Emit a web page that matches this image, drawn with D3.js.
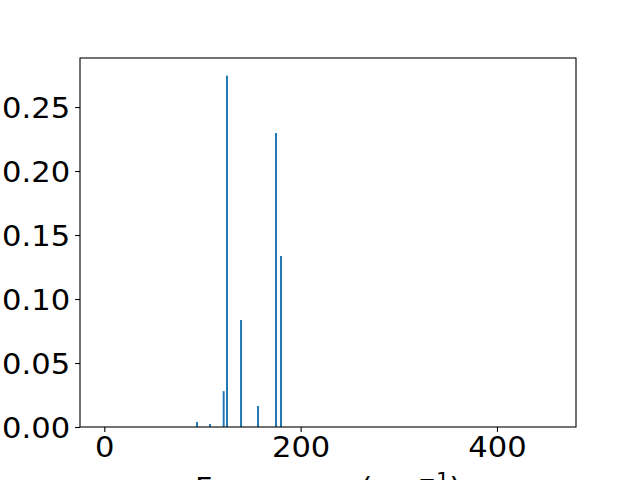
<!DOCTYPE html>
<html>
<head>
<meta charset="utf-8">
<script src="https://cdn.jsdelivr.net/npm/d3@7"></script>
<style>
html,body{margin:0;padding:0;background:#fff;}
svg{display:block;font-family:"DejaVu Sans",sans-serif;}
</style>
</head>
<body>
<svg id="chart" width="640" height="480"></svg>
<script>
const frequencies = [94.4, 107.7, 121.6, 125.0, 139.3, 156.6, 174.9, 180.0];
const intensities = [0.0039, 0.0023, 0.028, 0.2745, 0.0836, 0.0164, 0.2297, 0.1336];
const xTicks = [0, 200, 400];
const yTicks = [0, 0.05, 0.10, 0.15, 0.20, 0.25];
const xLabel = "Frequency (cm";
const xLabelSup = "\u22121";
const barWidth = 2;

(function () {
const svg = d3.select("#chart");
const mLeft = 80, mRight = 576, mTop = 58, mBottom = 427;
const fs = 27.8;
const sx = 1.1;
const off = 9.8;

const x = d3.scaleLinear().domain([-24.75, 480.5]).range([mLeft, mRight]);
const y = d3.scaleLinear().domain([0, 0.2883]).range([mBottom, mTop]);

svg.append("g").selectAll("rect").data(frequencies).join("rect")
  .attr("x", (d) => x(d - barWidth / 2))
  .attr("width", (d) => x(d + barWidth / 2) - x(d - barWidth / 2))
  .attr("y", (d, i) => y(intensities[i]))
  .attr("height", (d, i) => y(0) - y(intensities[i]))
  .attr("fill", "#1f77b4");

const xAxis = d3.axisBottom(x).tickValues(xTicks).tickFormat(d3.format("d")).tickSize(4.9).tickPadding(4.9);
const gx = svg.append("g").attr("transform", `translate(0,${mBottom})`).call(xAxis);
gx.select(".domain").remove();
gx.selectAll("line").attr("stroke", "#000").attr("stroke-width", 1.1);
gx.selectAll("text").attr("font-size", fs).attr("font-family", "DejaVu Sans").attr("fill", "#000")
  .attr("y", off).attr("dy", "0.73em").attr("transform", `scale(${sx},1)`);

const yAxis = d3.axisLeft(y).tickValues(yTicks).tickFormat(d3.format(".2f")).tickSize(4.9).tickPadding(4.9);
const gy = svg.append("g").attr("transform", `translate(${mLeft},0)`).call(yAxis);
gy.select(".domain").remove();
gy.selectAll("line").attr("stroke", "#000").attr("stroke-width", 1.1);
gy.selectAll("text").attr("font-size", fs).attr("font-family", "DejaVu Sans").attr("fill", "#000")
  .attr("x", -off / sx).attr("dy", "0.3645em").attr("transform", `scale(${sx},1)`);

svg.append("rect").attr("x", mLeft).attr("y", mTop).attr("width", mRight - mLeft).attr("height", mBottom - mTop)
  .attr("fill", "none").attr("stroke", "#000").attr("stroke-width", 1.1);

const lbl = svg.append("g").attr("transform", `translate(${(mLeft + mRight) / 2},498) scale(1.086,1)`)
  .append("text").attr("x", 0).attr("y", 0).attr("text-anchor", "middle")
  .attr("font-size", fs).attr("fill", "#000");
lbl.append("tspan").text(xLabel);
lbl.append("tspan").attr("font-size", fs * 0.7).attr("dy", -fs * 0.45).text(xLabelSup);
lbl.append("tspan").attr("dy", fs * 0.45).text(")");
})();
</script>
</body>
</html>
